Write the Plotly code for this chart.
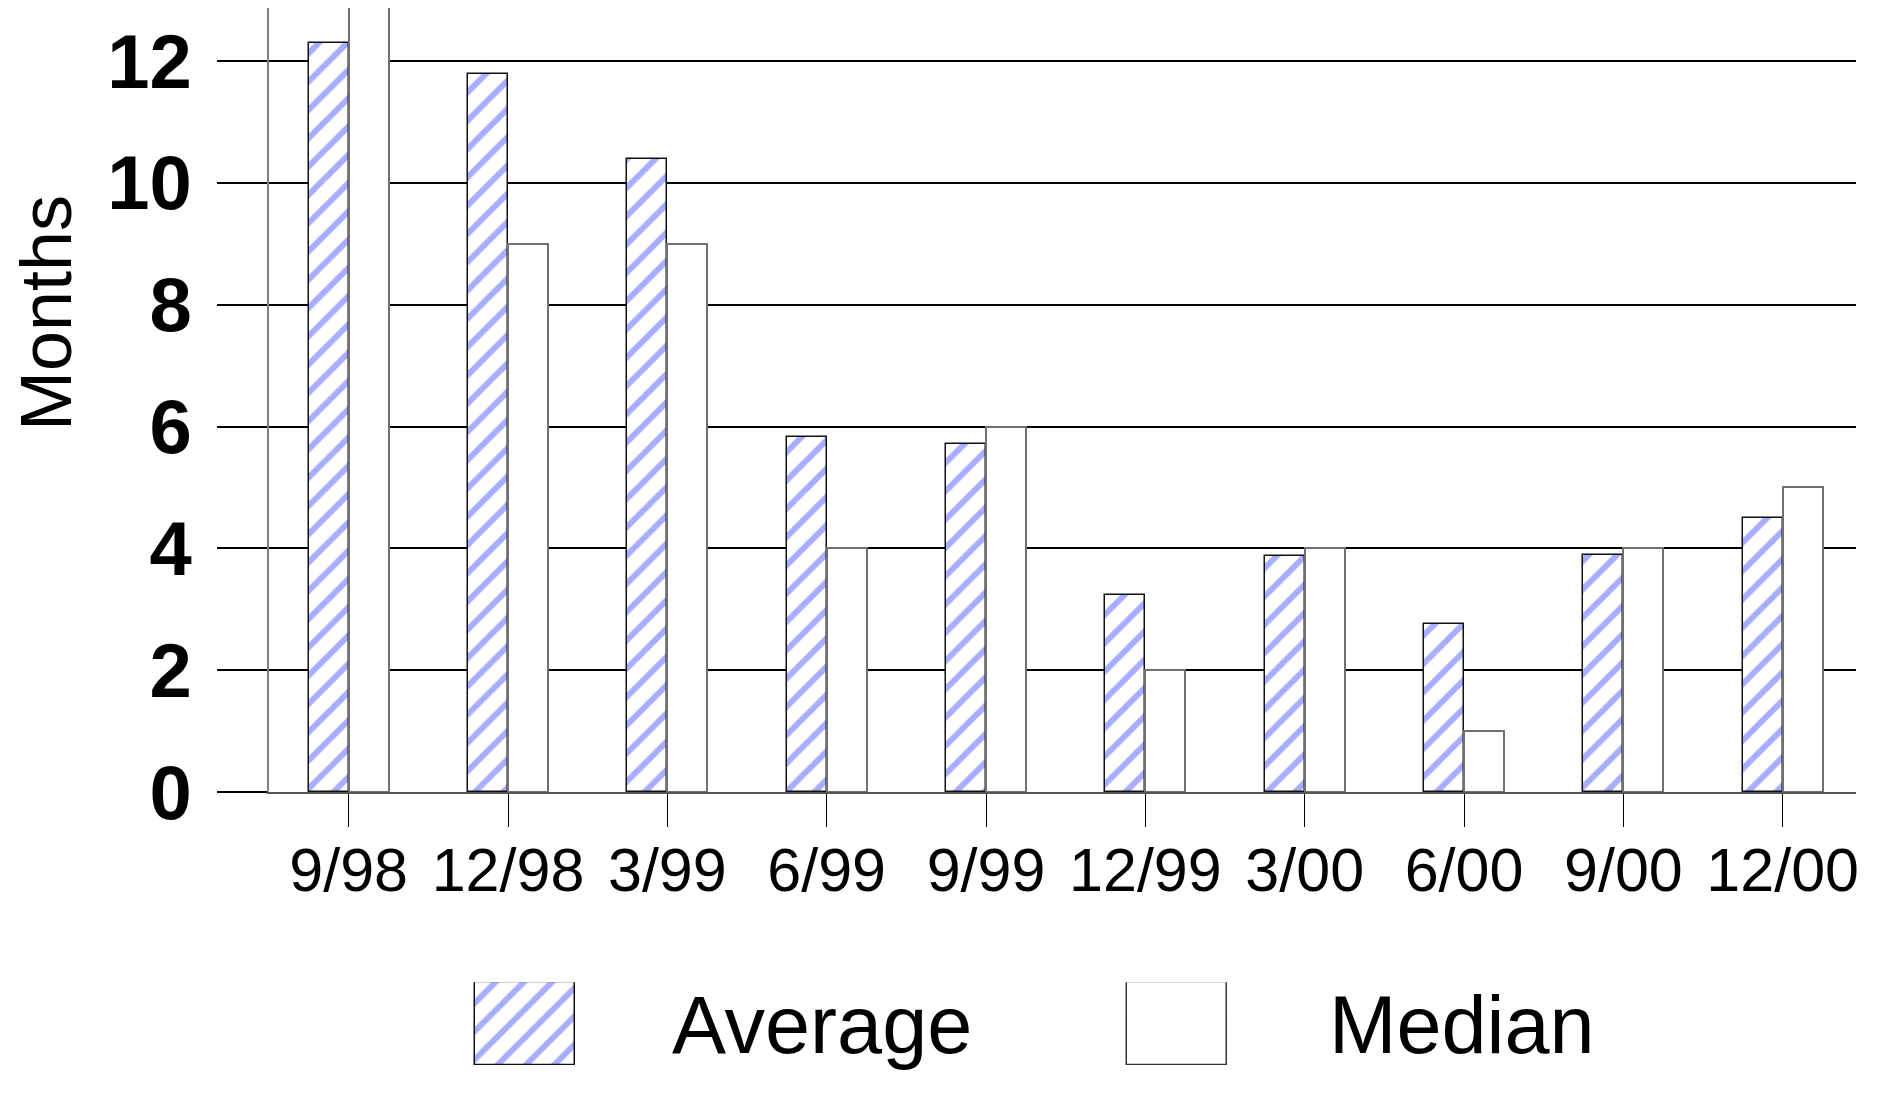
import plotly.graph_objects as go

# ---- data ----
categories = ["9/98", "12/98", "3/99", "6/99", "9/99", "12/99", "3/00", "6/00", "9/00", "12/00"]
average = [12.29, 11.79, 10.39, 5.83, 5.72, 3.24, 3.87, 2.76, 3.90, 4.50]
median = [13, 9, 9, 4, 6, 2, 4, 1, 4, 5]
y_ticks = [0, 2, 4, 6, 8, 10, 12]
series_names = ["Average", "Median"]

# ---- layout constants (pixels) ----
W, H = 1885, 1108
L, R, T, B = 269, 29, 8, 0
PLOT_W = W - L - R
PLOT_H = H - T - B
MAIN_BOTTOM_PX = 824
LEG_TOP_PX = 1022
HATCH = "#a9adff"
FONT = "Liberation Sans, Arial, sans-serif"

x_idx = list(range(len(categories)))
bar_w = 0.251
hatch = dict(shape="/", fgcolor=HATCH, bgcolor="white", size=20, solidity=0.3, fillmode="replace")

fig = go.Figure()
fig.add_trace(go.Bar(
    x=x_idx, y=average, name=series_names[0], width=bar_w, offset=-bar_w,
    marker=dict(color="white", line=dict(color="#111111", width=1.5), pattern=hatch),
    showlegend=False, xaxis="x", yaxis="y"))
fig.add_trace(go.Bar(
    x=x_idx, y=median, name=series_names[1], width=bar_w, offset=0,
    marker=dict(color="white", line=dict(color="#707070", width=2)),
    showlegend=False, xaxis="x", yaxis="y"))

# legend swatches drawn as bars on a helper axis measured in pixels
leg_x = [525, 1177]
fig.add_trace(go.Bar(
    x=[leg_x[0]], y=[1], width=100, base=0,
    marker=dict(color="white", line=dict(color="#111111", width=1.5), pattern=hatch),
    showlegend=False, xaxis="x2", yaxis="y2", hoverinfo="skip"))
fig.add_trace(go.Bar(
    x=[leg_x[1]], y=[1], width=100, base=0,
    marker=dict(color="white", line=dict(color="#333333", width=1.5)),
    showlegend=False, xaxis="x2", yaxis="y2", hoverinfo="skip"))

main_dom0 = (H - MAIN_BOTTOM_PX - B) / PLOT_H
leg_dom1 = (H - LEG_TOP_PX - B) / PLOT_H

def px_x(px):
    return (px - L) / PLOT_W

def px_y(py):
    return (H - B - py) / PLOT_H

fig.update_layout(
    width=W, height=H,
    margin=dict(l=L, r=R, t=T, b=B, pad=0),
    paper_bgcolor="white", plot_bgcolor="white",
    font=dict(family=FONT, color="black"),
    bargap=0,
    xaxis=dict(
        domain=[0, 1], range=[-0.5, 9.46],
        tickmode="array", tickvals=x_idx, ticktext=categories,
        ticks="outside", ticklen=33, tickwidth=1.3, tickcolor="black",
        showgrid=False, zeroline=False,
        showline=True, linecolor="#555555", linewidth=2,
        tickfont=dict(size=61, family=FONT, color="black"),
        ticklabelstandoff=-9,
        anchor="y",
    ),
    yaxis=dict(
        domain=[main_dom0, 1], range=[0, 12.87],
        tickmode="array", tickvals=y_ticks, ticktext=[str(v) for v in y_ticks],
        ticks="outside", ticklen=50, tickwidth=1.5, tickcolor="black",
        showgrid=True, gridcolor="black", gridwidth=1.6,
        zeroline=False,
        showline=True, linecolor="#808080", linewidth=2,
        tickfont=dict(size=76, family=FONT, color="black", weight="bold"),
        ticklabelstandoff=10,
        anchor="x",
    ),
    xaxis2=dict(domain=[0, 1], range=[L, W - R], visible=False, anchor="y2"),
    yaxis2=dict(domain=[0, leg_dom1], range=[0, 1], visible=False, anchor="x2"),
    annotations=[
        dict(text="Months", textangle=-90, xref="paper", yref="paper",
             x=px_x(46), y=px_y(325.5), xanchor="center", yanchor="middle",
             showarrow=False, font=dict(size=72, family=FONT, color="black")),
        dict(text=series_names[0], xref="paper", yref="paper",
             x=px_x(670), y=px_y(1066), xanchor="left", yanchor="middle",
             showarrow=False, font=dict(size=81, family=FONT, color="black")),
        dict(text=series_names[1], xref="paper", yref="paper",
             x=px_x(1327), y=px_y(1066), xanchor="left", yanchor="middle",
             showarrow=False, font=dict(size=81, family=FONT, color="black")),
    ],
)

fig.write_html("out.html", config={"displayModeBar": False},
               post_script="document.body.style.margin='0';document.body.style.overflow='hidden';")
